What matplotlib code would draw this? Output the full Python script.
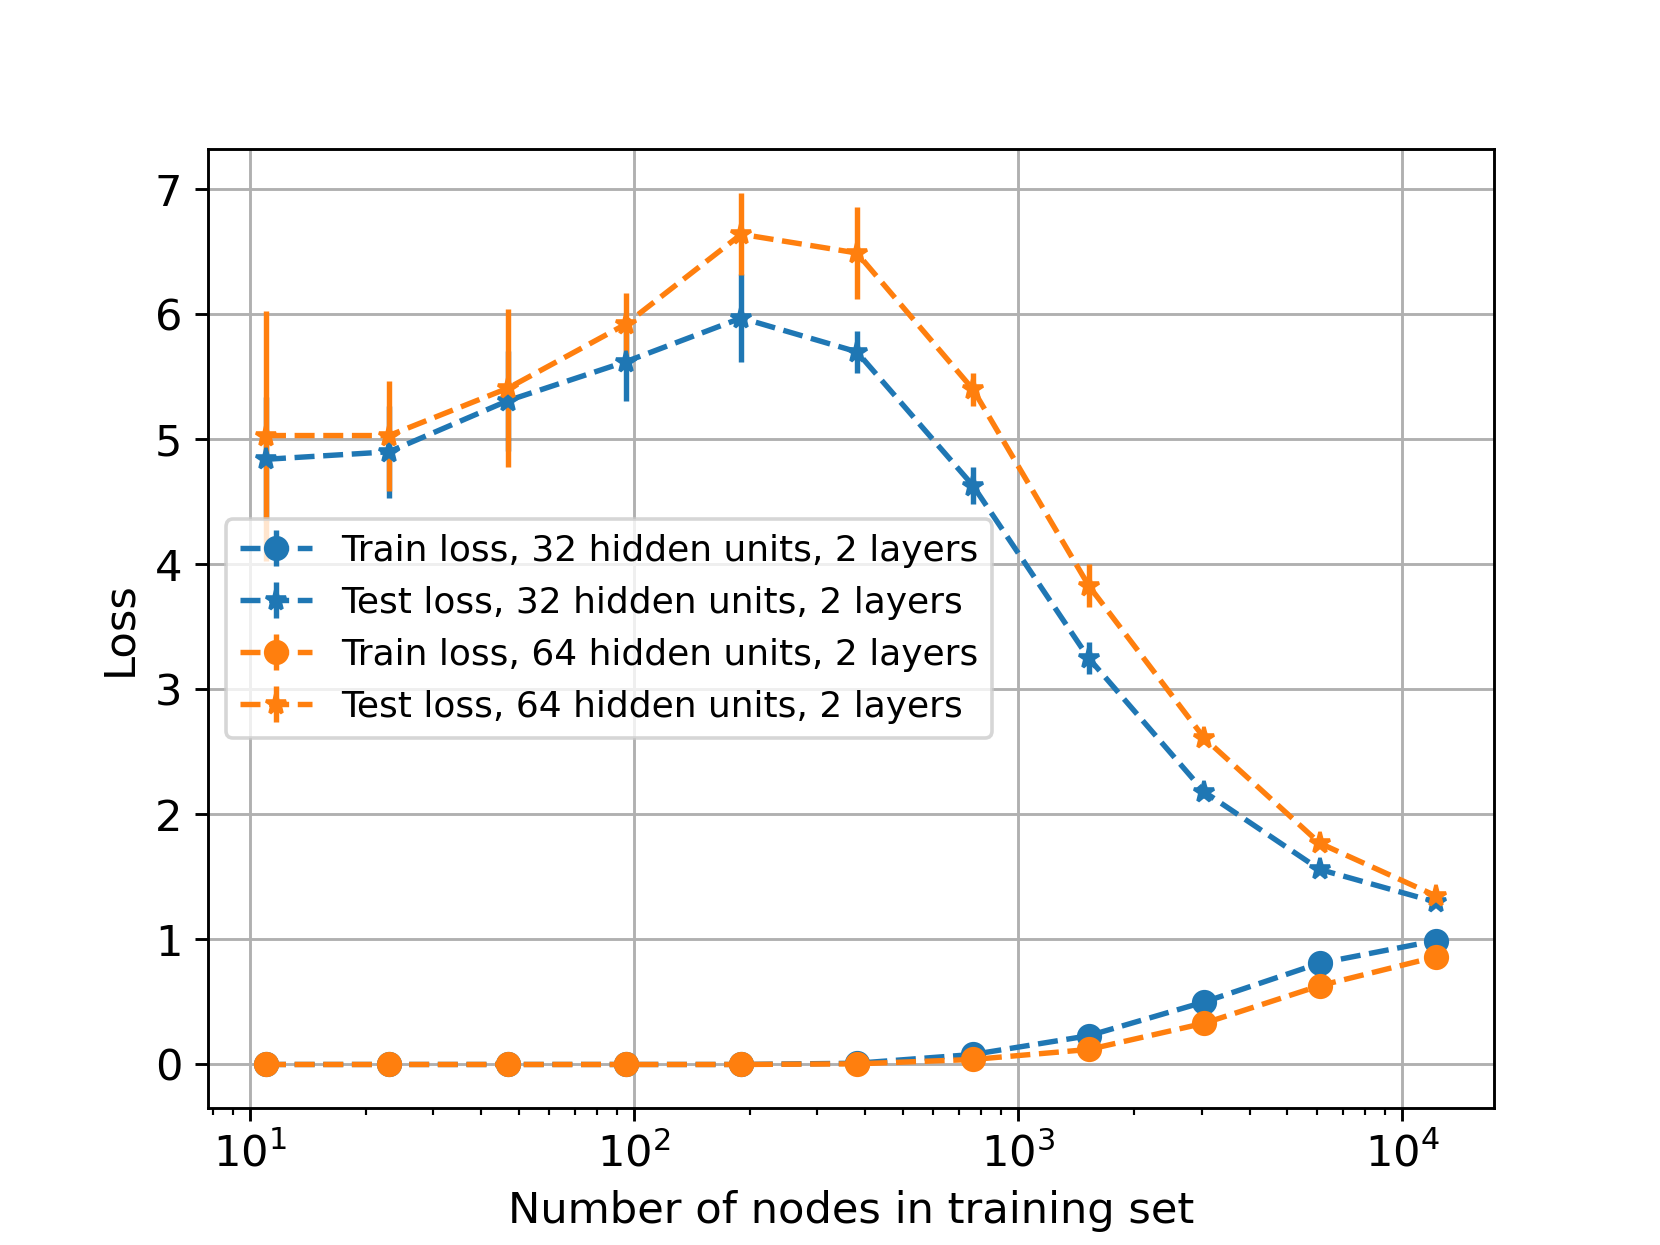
import numpy as np
import matplotlib.pyplot as plt

# number of nodes in training set
n_nodes = [11, 23, 47, 95, 190, 380, 762, 1525, 3050, 6090, 12200]

train_32 = [0.0, 0.0, 0.0, 0.0, 0.0, 0.01, 0.08, 0.23, 0.50, 0.81, 0.99]
train_32_err = [0.0, 0.0, 0.0, 0.0, 0.0, 0.0, 0.01, 0.01, 0.01, 0.01, 0.01]
test_32 = [4.84, 4.90, 5.31, 5.62, 5.97, 5.70, 4.63, 3.25, 2.18, 1.56, 1.30]
test_32_err = [0.5, 0.37, 0.4, 0.31, 0.35, 0.17, 0.15, 0.13, 0.05, 0.04, 0.03]

train_64 = [0.0, 0.0, 0.0, 0.0, 0.0, 0.005, 0.04, 0.12, 0.33, 0.63, 0.86]
train_64_err = [0.0, 0.0, 0.0, 0.0, 0.0, 0.0, 0.01, 0.01, 0.01, 0.01, 0.01]
test_64 = [5.03, 5.03, 5.41, 5.92, 6.64, 6.49, 5.40, 3.83, 2.61, 1.77, 1.35]
test_64_err = [1.0, 0.44, 0.63, 0.25, 0.33, 0.37, 0.13, 0.17, 0.05, 0.04, 0.03]

plt.rcParams.update({'axes.labelsize': 12,
                     'xtick.labelsize': 12,
                     'ytick.labelsize': 12})

fig, ax = plt.subplots(figsize=(6.4, 4.8), dpi=259.375)

ax.errorbar(n_nodes, train_32, yerr=train_32_err, fmt='--o', color='C0',
            label='Train loss, 32 hidden units, 2 layers')
ax.errorbar(n_nodes, test_32, yerr=test_32_err, fmt='--*', color='C0',
            label='Test loss, 32 hidden units, 2 layers')
ax.errorbar(n_nodes, train_64, yerr=train_64_err, fmt='--o', color='C1',
            label='Train loss, 64 hidden units, 2 layers')
ax.errorbar(n_nodes, test_64, yerr=test_64_err, fmt='--*', color='C1',
            label='Test loss, 64 hidden units, 2 layers')

ax.set_xscale('log')
ax.set_xlabel('Number of nodes in training set')
ax.set_ylabel('Loss')
ax.grid(True)
ax.legend(loc='center left', fontsize=10)

fig.savefig('out.png')
